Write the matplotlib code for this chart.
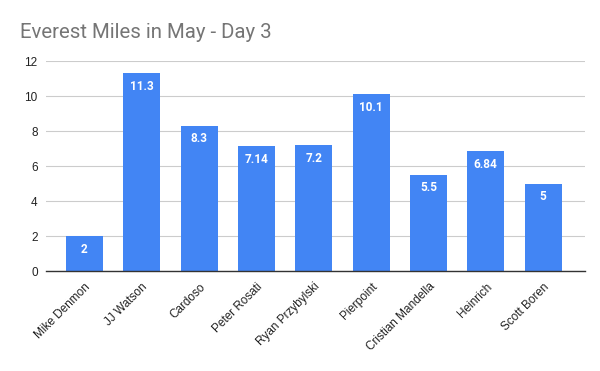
import matplotlib
matplotlib.use("Agg")
import matplotlib.pyplot as plt

names = [
    "Mike Denmon",
    "JJ Watson",
    "Cardoso",
    "Peter Rosati",
    "Ryan Przybylski",
    "Pierpoint",
    "Cristian Mandella",
    "Heinrich",
    "Scott Boren",
]
miles = [2, 11.3, 8.3, 7.14, 7.2, 10.1, 5.5, 6.84, 5]
y_ticks = [0, 2, 4, 6, 8, 10, 12]

plt.rcParams["font.family"] = ["Liberation Sans", "DejaVu Sans"]

fig = plt.figure(figsize=(6, 3.71), dpi=100)
ax = fig.add_axes([46 / 600, 100 / 371, 539 / 600, 210 / 371])

x = list(range(len(names)))
bars = ax.bar(x, miles, width=0.645, color="#4285f4", zorder=2)

for bar, value in zip(bars, miles):
    ax.text(
        bar.get_x() + bar.get_width() / 2,
        value - 0.38,
        f"{value:g}",
        ha="center",
        va="top",
        color="white",
        fontsize=8.5,
        fontweight="bold",
        family=["Roboto", "DejaVu Sans"],
    )

ax.set_xlim(-0.67, len(names) - 1 + 0.73)
ax.set_ylim(0, 12)
ax.set_yticks(y_ticks)
ax.set_xticks(x)
ax.set_xticklabels(names, rotation=45, ha="right", rotation_mode="anchor")
ax.tick_params(axis="both", length=0, labelsize=8.5, colors="#222222")
ax.tick_params(axis="y", pad=6)
ax.tick_params(axis="x", pad=7)
ax.grid(axis="y", color="#cccccc", linewidth=0.8, zorder=0)

for side in ["top", "right", "left"]:
    ax.spines[side].set_visible(False)
ax.spines["bottom"].set_color("#333333")
ax.spines["bottom"].set_linewidth(1.0)
ax.spines["bottom"].set_zorder(3)

fig.text(
    20 / 600,
    1 - 32 / 371,
    "Everest Miles in May - Day 3",
    fontsize=14.7,
    color="#757575",
    va="center",
    ha="left",
    family=["Roboto", "DejaVu Sans"],
)

fig.savefig("out.png", dpi=100)
plt.close(fig)
